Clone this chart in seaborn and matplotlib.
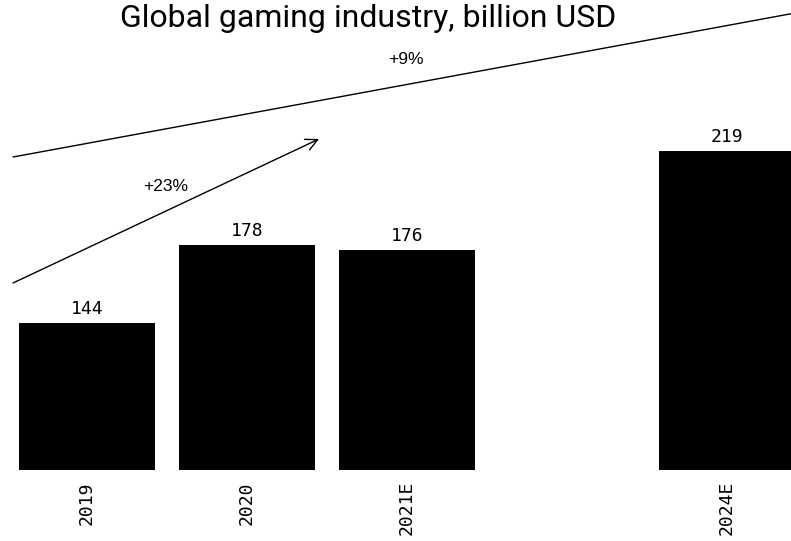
import matplotlib
matplotlib.use("Agg")
import matplotlib.pyplot as plt
import seaborn as sns
import pandas as pd

# Market size, billion USD
years = ["2019", "2020", "2021E", "2024E"]
values = [144, 178, 176, 219]
# category slots along the x axis; the blank slot separates the forecast year
slots = ["2019", "2020", "2021E", "", "2024E"]

growth_labels = ["+23%", "+9%"]
title = "Global gaming industry, billion USD"

sns.set_theme(style="white")
plt.rcParams["font.family"] = ["DejaVu Sans Mono"]
plt.rcParams["text.color"] = "black"
plt.rcParams["xtick.color"] = "black"
plt.rcParams["xtick.labelcolor"] = "black"

W, H, DPI = 791, 541, 100
fig = plt.figure(figsize=(W / DPI, H / DPI), dpi=DPI)
ax = fig.add_axes([0, (H - 470) / H, 1, 470 / H])

df = pd.DataFrame({"year": years, "value": values})
sns.barplot(data=df, x="year", y="value", order=slots, color="black",
            width=0.85, saturation=1, ax=ax, edgecolor="none")

ax.set_xlim(-87 / 160, (W - 87) / 160)
ax.set_ylim(80, 285)
for s in ax.spines.values():
    s.set_visible(False)
ax.set_yticks([])
ax.set_xlabel("")
ax.set_ylabel("")
ax.tick_params(axis="x", length=0, pad=8, labelsize=13, rotation=90,
               labelcolor="black")
for lab in ax.get_xticklabels():
    lab.set_fontfamily("DejaVu Sans Mono")

# value labels above each bar
for i, cat in enumerate(slots):
    if cat in years:
        v = values[years.index(cat)]
        ax.annotate(str(v), (i, v), xytext=(0, 3.5), textcoords="offset points",
                    ha="center", va="bottom", fontsize=13, color="black",
                    fontfamily="DejaVu Sans Mono")

def fp(x, y):
    # pixel position measured from the top-left corner -> figure fraction
    return (x / W, 1 - y / H)

arrow = dict(arrowstyle="->,head_length=0.7,head_width=0.35", color="black",
             lw=1.0, shrinkA=0, shrinkB=0)
ax.annotate("", xy=fp(319, 139), xytext=fp(13, 283),
            xycoords="figure fraction", textcoords="figure fraction",
            arrowprops=arrow, annotation_clip=False)
ax.annotate("", xy=fp(806, 11), xytext=fp(13, 157),
            xycoords="figure fraction", textcoords="figure fraction",
            arrowprops=arrow, annotation_clip=False)

fig.text(*fp(166, 187), growth_labels[0], ha="center", va="center",
         fontsize=12.5, color="black", fontfamily="Liberation Sans")
fig.text(*fp(406, 60), growth_labels[1], ha="center", va="center",
         fontsize=12.5, color="black", fontfamily="Liberation Sans")

fig.text(*fp(368, 27), title, ha="center", va="baseline",
         fontsize=23, color="black", fontfamily="Roboto")

fig.savefig("out.png", dpi=DPI)
